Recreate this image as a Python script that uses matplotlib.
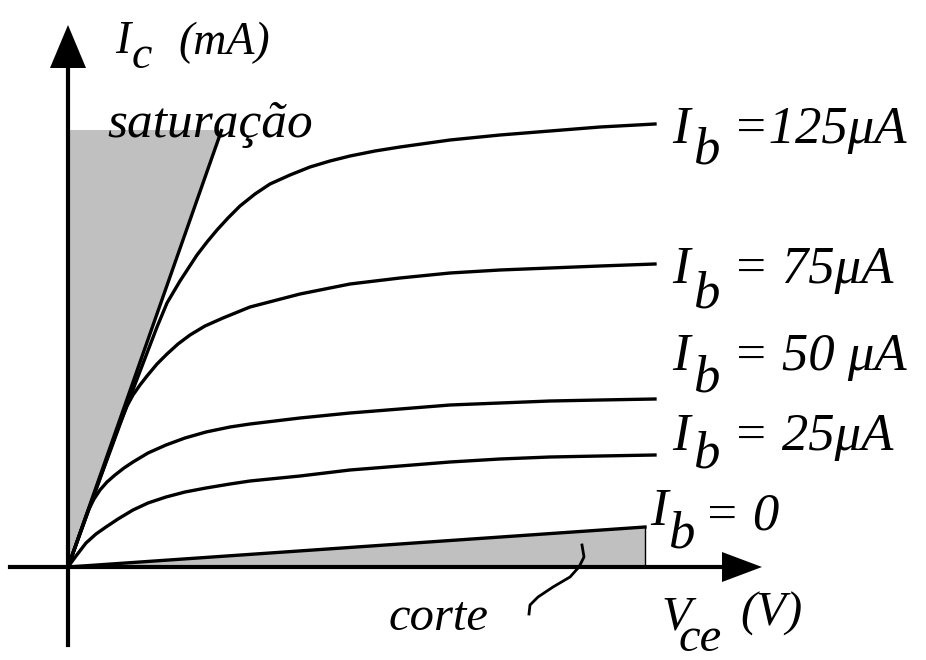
import matplotlib
matplotlib.use("Agg")
import matplotlib.pyplot as plt

# characteristic curves of a BJT
# (Vce and Ic in arbitrary drawing units, origin at the axes crossing)
sat_vce = [0, 154]
sat_ic = [0, 438]

vce_125 = [0, 33, 61, 89, 99, 112, 129, 139, 149, 160, 172, 187, 202, 222, 242, 262, 282, 307, 332, 382, 432, 482, 532, 587]
ic_125 = [0, 91, 167, 240, 264, 286, 312, 325, 337, 349, 361, 373, 383, 392, 400, 406, 411, 416, 420, 427, 432, 436, 440, 443]

vce_75 = [0, 32, 52, 59, 65, 72, 79, 89, 99, 110, 122, 137, 155, 182, 232, 282, 332, 382, 432, 482, 532, 587]
ic_75 = [0, 89, 144, 161, 172, 182, 191, 203, 213, 223, 232, 241, 249, 260, 273, 283, 289, 294, 297, 299, 301, 303]

vce_50 = [0, 16, 20, 26, 32, 39, 47, 56, 65, 80, 98, 117, 138, 162, 182, 232, 282, 332, 382, 432, 482, 532, 587]
ic_50 = [0, 45, 56, 68, 77, 85, 92, 99, 105, 114, 122, 129, 135, 140, 143, 149, 154, 158, 162, 164, 166, 167, 168]

vce_25 = [0, 8, 18, 28, 38, 50, 65, 80, 98, 117, 138, 162, 182, 232, 282, 332, 382, 432, 482, 532, 587]
ic_25 = [0, 11, 24, 33, 40, 48, 57, 64, 70, 75, 79, 83, 86, 91, 97, 101, 105, 108, 110, 111, 112]

vce_0 = [0, 577]
ic_0 = [0, 40]

corte_x = [514, 516, 511, 502, 485, 470, 462, 461]
corte_y = [22, 10, 0, -10, -20, -30, -38, -47]

labels = ["=125μA", "= 75μA", "= 50 μA", "= 25μA"]
label_ic = [424, 284, 197, 117]
sub_ic = [404, 260, 175, 100]

gray = "#c0c0c0"
font = ["Liberation Serif", "DejaVu Serif"]

fig = plt.figure(figsize=(9.26, 6.6), dpi=100)
ax = fig.add_axes([0, 0, 1, 1])
ax.set_xlim(-68, 858)
ax.set_ylim(-93, 567)
ax.axis("off")

# shaded regions
ax.fill([0, 0, sat_vce[1], 0], [0, 437, 437, 0], color=gray, lw=0)
ax.fill([0, vce_0[1], vce_0[1]], [0, ic_0[1], 0], color=gray, lw=0)

# axes with arrow heads
ax.plot([-58, 660], [0, 0], color="black", lw=3)
ax.plot([0, 0], [-78, 505], color="black", lw=3)
ax.fill([654, 694, 654], [-15, 0, 15], color="black", lw=0)
ax.fill([-18, 0, 18], [499, 542, 499], color="black", lw=0)

# curves
ax.plot(sat_vce, sat_ic, color="black", lw=2.4, solid_capstyle="butt")
for vx, iy in [(vce_125, ic_125), (vce_75, ic_75), (vce_50, ic_50), (vce_25, ic_25)]:
    ax.plot(vx, iy, color="black", lw=2.4, solid_joinstyle="round")
ax.plot(vce_0, ic_0, color="black", lw=2.4)
ax.plot([vce_0[1], vce_0[1]], [0, ic_0[1]], color="black", lw=1)
ax.plot(corte_x, corte_y, color="black", lw=2)

kw = dict(family=font, style="italic", color="black", ha="left", va="baseline")

# curve labels
for lab, y, ys in zip(labels, label_ic, sub_ic):
    ax.text(604, y, "I", fontsize=38, **kw)
    ax.text(625, ys, "b", fontsize=38, **kw)
    ax.text(665, y, lab, fontsize=38, **kw)
ax.text(582, 42, "I", fontsize=38, **kw)
ax.text(600, 20, "b", fontsize=38, **kw)
ax.text(636, 37, "= 0", fontsize=38, **kw)

# axis titles
ax.text(47, 514, "I", fontsize=33, **kw)
ax.text(64, 499, "c", fontsize=33, **kw)
ax.text(110, 513, "(mA)", fontsize=33, **kw)
ax.text(593, -62, "V", fontsize=35, **kw)
ax.text(610, -84, "ce", fontsize=35, **kw)
ax.text(672, -59, "(V)", fontsize=35, **kw)

ax.text(39, 430, "saturação", fontsize=37, **kw)
ax.text(320, -63, "corte", fontsize=35, **kw)

fig.savefig("out.png", dpi=100)
